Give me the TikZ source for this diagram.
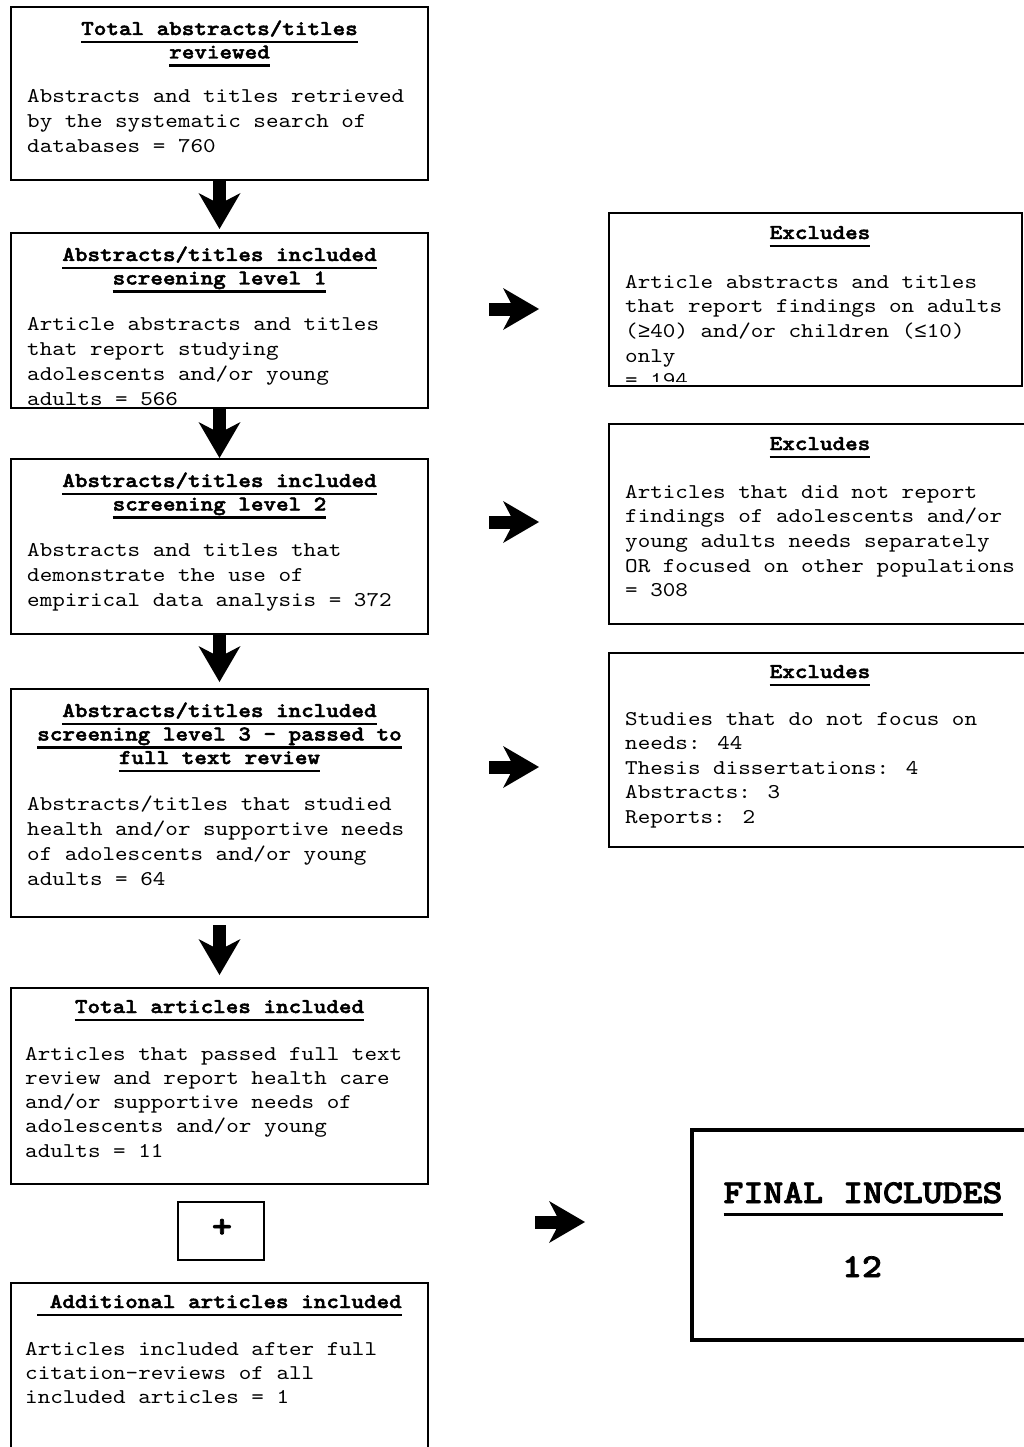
\documentclass[tikz,border=0pt]{standalone}
\usepackage{fontspec}
\newfontfamily\cour{lmmono10-regular}[Extension=.otf, BoldFont=lmmonolt10-bold, BoldFeatures={FakeBold=2.2}, FakeStretch=1.14]
\newfontfamily\libm{Liberation Mono}
\usetikzlibrary{arrows.meta}
\newsavebox\ulbox
\newcommand\ulA[1]{\sbox\ulbox{#1}\rlap{\raisebox{-8.4pt}[0pt][0pt]{\rule{\wd\ulbox}{2.7pt}}}\usebox\ulbox}
\newcommand\ulB[1]{\sbox\ulbox{#1}\rlap{\raisebox{-13.4pt}[0pt][0pt]{\rule{\wd\ulbox}{3.4pt}}}\usebox\ulbox}
\newcommand\Ll[2]{\vtop{\baselineskip=#1\relax\lineskiplimit=-1000pt\relax\lineskip=0pt\relax\halign{##\hfil\cr#2\crcr}}}
\newcommand\Cl[2]{\vtop{\baselineskip=#1\relax\lineskiplimit=-1000pt\relax\lineskip=0pt\relax\halign{\hfil##\hfil\cr#2\crcr}}}
\begin{document}
\begin{tikzpicture}[x=1pt,y=-1pt,
  box/.style={draw, line width=1.6pt, inner sep=0pt, outer sep=0pt, anchor=north west},
  ttl/.style={font=\cour\bfseries\fontsize{21}{23.5}\selectfont, inner sep=0pt, anchor=base},
  txt/.style={font=\cour\fontsize{21}{25}\selectfont, inner sep=0pt, anchor=base west},
  barrow/.style={line width=13pt, -{Stealth[length=36pt,width=42pt,inset=11pt,line width=0pt]}}]
\useasboundingbox (0,0) rectangle (1023,1447);

% left column
\node[box, minimum width=417pt, minimum height=173pt] (b1) at (11,7) {};
\node[ttl] (b1h) at (219.5,35) {\Cl{23.5pt}{\ulA{Total abstracts/titles}\cr\ulA{reviewed}}};
\node[txt] (b1b) at (27,103) {\Ll{25pt}{Abstracts and titles retrieved\cr by the systematic search of\cr databases = 760}};

\node[box, minimum width=417pt, minimum height=175pt] (b2) at (11,233) {};
\node[ttl] (b2h) at (219.5,261) {\Cl{23.5pt}{\ulA{Abstracts/titles included}\cr\ulA{screening level 1}}};
\node[txt] (b2b) at (27,330) {\Ll{25pt}{Article abstracts and titles\cr that report studying\cr adolescents and/or young\cr adults = 566}};

\node[box, minimum width=417pt, minimum height=175pt] (b3) at (11,459) {};
\node[ttl] (b3h) at (219.5,487) {\Cl{23.5pt}{\ulA{Abstracts/titles included}\cr\ulA{screening level 2}}};
\node[txt] (b3b) at (27,556) {\Ll{25pt}{Abstracts and titles that\cr demonstrate the use of\cr empirical data analysis = 372}};

\node[box, minimum width=417pt, minimum height=228pt] (b4) at (11,689) {};
\node[ttl] (b4h) at (219.5,717) {\Cl{23.5pt}{\ulA{Abstracts/titles included}\cr\ulA{screening level 3 – passed to}\cr\ulA{full text review}}};
\node[txt] (b4b) at (27,810) {\Ll{25pt}{Abstracts/titles that studied\cr health and/or supportive needs\cr of adolescents and/or young\cr adults = 64}};

\node[box, minimum width=417pt, minimum height=196pt] (b5) at (11,988) {};
\node[ttl] (b5h) at (219.5,1013) {\ulA{Total articles included}};
\node[txt] (b5b) at (25,1060) {\Ll{24.3pt}{Articles that passed full text\cr review and report health care\cr and/or supportive needs of\cr adolescents and/or young\cr adults = 11}};

\node[box, line width=1.4pt, minimum width=86pt, minimum height=58pt] (plb) at (178,1202) {};
\node[font=\cour\bfseries\fontsize{34}{34}\selectfont, inner sep=0pt] (pl) at (222,1228) {+};

\node[box, minimum width=417pt, minimum height=190pt] (b6) at (11,1283) {};
\node[ttl] (b6h) at (219.5,1308) {\ulA{~Additional articles included}};
\node[txt] (b6b) at (25,1355) {\Ll{24pt}{Articles included after full\cr citation-reviews of all\cr included articles = 1}};

% right column
\node[box, minimum width=413pt, minimum height=173pt] (e1) at (609,213) {};
\node[ttl] (e1h) at (820,239) {\ulA{Excludes}};
\begin{scope}
\clip (609,213) rectangle (1022,381);
\node[txt] (e1b) at (625,288) {\Ll{24.7pt}{Article abstracts and titles\cr that report findings on adults\cr ({\libm ≥}40) and/or children ({\libm ≤}10)\cr only\cr = 194}};
\end{scope}

\node[box, minimum width=430pt, minimum height=200pt] (e2) at (609,424) {};
\node[ttl] (e2h) at (820,450) {\ulA{Excludes}};
\node[txt] (e2b) at (625,498) {\Ll{24.7pt}{Articles that did not report\cr findings of adolescents and/or\cr young adults needs separately\cr OR focused on other populations\cr = 308}};

\node[box, minimum width=430pt, minimum height=194pt] (e3) at (609,653) {};
\node[ttl] (e3h) at (820,678) {\ulA{Excludes}};
\node[txt] (e3b) at (625,725) {\Ll{24.6pt}{Studies that do not focus on\cr needs: 44\cr Thesis dissertations: 4\cr Abstracts: 3\cr Reports: 2}};

\node[box, line width=4pt, minimum width=350pt, minimum height=210pt] (fin) at (692,1130) {};
\node[font=\cour\bfseries\fontsize{33.3}{36}\selectfont, inner sep=0pt, anchor=base] (finh) at (863,1203) {\ulB{FINAL INCLUDES}};
\node[font=\cour\bfseries\fontsize{33.3}{36}\selectfont, inner sep=0pt, anchor=base] (finn) at (862,1277) {12};

% down arrows
\draw[barrow, shorten >=4pt] (b1.south) -- (b2.north);
\draw[barrow, shorten >=1pt] (b2.south) -- (b3.north);
\draw[barrow, shorten >=7pt] (b3.south) -- (b4.north);
\draw[barrow, shorten <=8pt, shorten >=13pt] (b4.south) -- (b5.north);

% right arrows
\coordinate (r1a) at (489,309); \coordinate (r1b) at (539,309);
\coordinate (r2a) at (489,522); \coordinate (r2b) at (539,522);
\coordinate (r3a) at (489,767); \coordinate (r3b) at (539,767);
\coordinate (r4a) at (535,1222); \coordinate (r4b) at (585,1222);
\draw[barrow] (r1a) -- (r1b);
\draw[barrow] (r2a) -- (r2b);
\draw[barrow] (r3a) -- (r3b);
\draw[barrow] (r4a) -- (r4b);
\end{tikzpicture}
\end{document}
